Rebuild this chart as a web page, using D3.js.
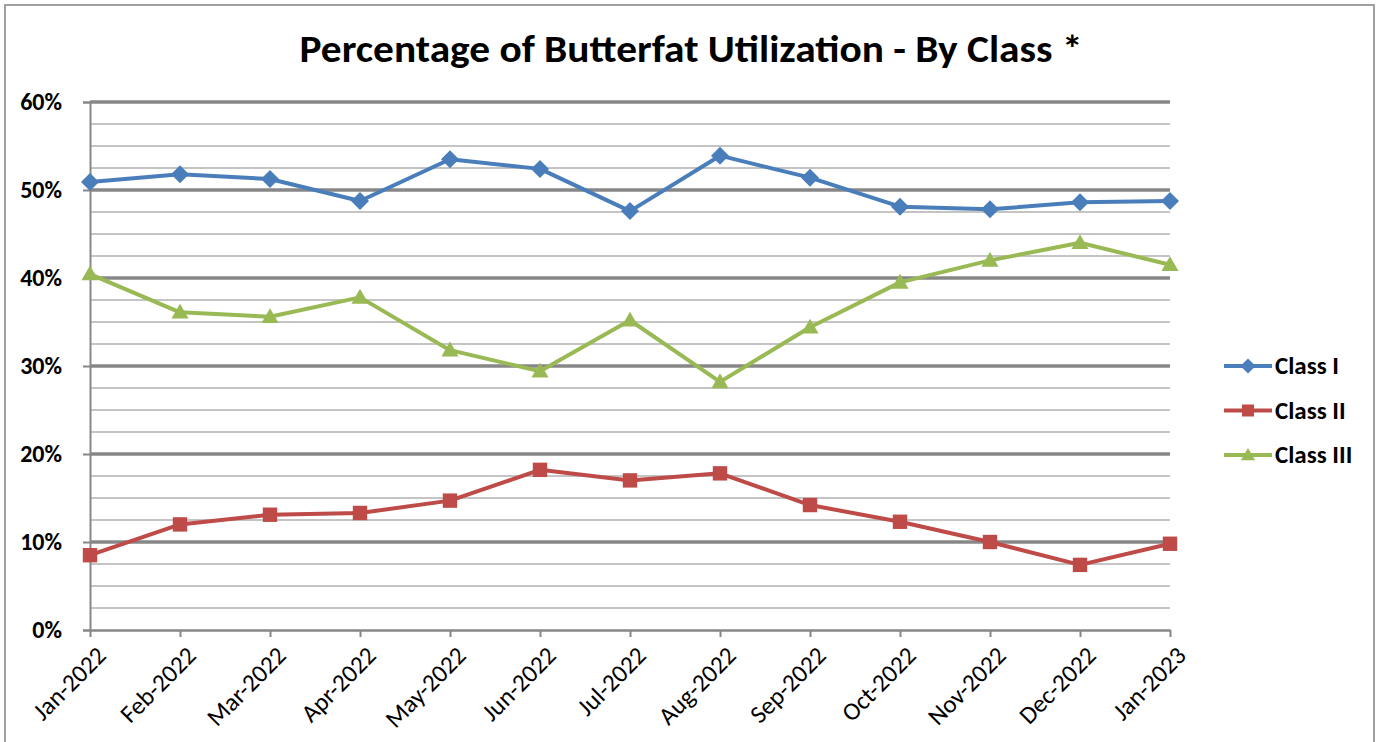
<!DOCTYPE html>
<html>
<head>
<meta charset="utf-8">
<script src="https://cdn.jsdelivr.net/npm/d3@7"></script>
<style>
  body { margin: 0; background: #fff; }
  svg text { font-family: Calibri, Carlito, Lato, sans-serif; fill: #000; }
</style>
</head>
<body>
<svg id="chart" width="1377" height="742"></svg>
<script>
// months on the x axis
var months = ["Jan-2022","Feb-2022","Mar-2022","Apr-2022","May-2022","Jun-2022","Jul-2022",
	"Aug-2022","Sep-2022","Oct-2022","Nov-2022","Dec-2022","Jan-2023"];

// values in percent
var classI   = [50.9, 51.8, 51.25, 48.75, 53.5, 52.4, 47.6, 53.9, 51.4, 48.1, 47.8, 48.6, 48.75];
var classII  = [8.5, 12.0, 13.1, 13.3, 14.7, 18.2, 17.0, 17.8, 14.2, 12.3, 10.0, 7.4, 9.8];
var classIII = [40.45, 36.1, 35.6, 37.8, 31.8, 29.4, 35.2, 28.2, 34.4, 39.5, 42.0, 44.0, 41.5];

var seriesNames = ["Class I", "Class II", "Class III"];
var yTicks = [0, 10, 20, 30, 40, 50, 60];

var colors = ["#4a7ebb", "#be4b48", "#98b954"];
var series = [classI, classII, classIII];

// marker paths, centred on 0,0
function marker(k, s){
	if(k == 0) return "M0," + (-s) + "L" + s + ",0L0," + s + "L" + (-s) + ",0Z";
	if(k == 1) return "M" + (-s*0.8) + "," + (-s*0.8) + "h" + (s*1.6) + "v" + (s*1.6) + "h" + (-s*1.6) + "Z";
	return "M0," + (-s*0.95) + "L" + (s*0.95) + "," + (s*0.7) + "L" + (-s*0.95) + "," + (s*0.7) + "Z";
}

var svg = d3.select("#chart");

// outer frame (bottom edge is off the picture)
svg.append("path")
	.attr("d", "M5,760 V5 H1374 V760")
	.attr("fill", "none")
	.attr("stroke", "#a0a0a0")
	.attr("stroke-width", 2);

svg.append("text")
	.attr("x", 691).attr("y", 62)
	.attr("text-anchor", "middle")
	.style("font-size", "38px")
	.style("font-weight", "bold")
	.attr("textLength", 783)
	.attr("lengthAdjust", "spacingAndGlyphs")
	.text("Percentage of Butterfat Utilization - By Class *");

var x = d3.scalePoint().domain(months).range([90, 1170]);
var y = d3.scaleLinear().domain([0, 60]).range([630, 102]);

// minor gridlines every 2.5%
var minor = d3.range(0, 60.1, 2.5).filter(function(v){ return v % 10 != 0; });
svg.append("g").selectAll("line").data(minor).enter().append("line")
	.attr("x1", 90).attr("x2", 1170)
	.attr("y1", function(d){ return y(d); }).attr("y2", function(d){ return y(d); })
	.attr("stroke", "#c4c4c4").attr("stroke-width", 2);

svg.append("g").selectAll("line").data(yTicks.filter(function(d){ return d > 0; })).enter().append("line")
	.attr("x1", 90).attr("x2", 1170)
	.attr("y1", function(d){ return y(d); }).attr("y2", function(d){ return y(d); })
	.attr("stroke", "#878787").attr("stroke-width", 3.5);

var yAxis = svg.append("g")
	.attr("transform", "translate(90,0)")
	.call(d3.axisLeft(y).tickValues(yTicks).tickSize(7).tickPadding(21)
		.tickFormat(function(d){ return d + "%"; }));
yAxis.selectAll("line, path").attr("stroke", "#878787").attr("stroke-width", 2);
yAxis.selectAll("text")
	.style("font-size", "24px").style("font-weight", "bold")
	.style("font-family", "Calibri, Carlito, Lato, sans-serif")
	.attr("fill", "#000");

var xAxis = svg.append("g")
	.attr("transform", "translate(0,630)")
	.call(d3.axisBottom(x).tickSize(7).tickSizeOuter(0));
xAxis.select(".domain").attr("stroke", "#878787").attr("stroke-width", 2.5);
xAxis.selectAll("line").attr("stroke", "#878787").attr("stroke-width", 2);
xAxis.selectAll("text")
	.style("font-size", "25px")
	.style("font-weight", "normal")
	.style("font-family", "Calibri, Carlito, Lato, sans-serif")
	.attr("fill", "#000")
	.attr("text-anchor", "end")
	.attr("dy", 0)
	.attr("transform", "translate(10,20) rotate(-45)");

var line = d3.line()
	.x(function(d, i){ return x(months[i]); })
	.y(function(d){ return y(d); });

series.forEach(function(vals, k){
	var g = svg.append("g");
	g.append("path")
		.attr("d", line(vals))
		.attr("fill", "none")
		.attr("stroke", colors[k])
		.attr("stroke-width", 4)
		.attr("stroke-linejoin", "round");
	g.selectAll("path.pt").data(vals).enter().append("path")
		.attr("class", "pt")
		.attr("transform", function(d, i){ return "translate(" + x(months[i]) + "," + y(d) + ")"; })
		.attr("d", marker(k, 9))
		.attr("fill", colors[k]);
});

var legend = svg.append("g");
seriesNames.forEach(function(name, k){
	var ly = 366 + k * 44.5;
	legend.append("line")
		.attr("x1", 1224).attr("x2", 1272)
		.attr("y1", ly).attr("y2", ly)
		.attr("stroke", colors[k]).attr("stroke-width", 4);
	legend.append("path")
		.attr("transform", "translate(1248," + ly + ")")
		.attr("d", marker(k, 7.5))
		.attr("fill", colors[k]);
	legend.append("text")
		.attr("x", 1275).attr("y", ly + 8)
		.style("font-size", "25px").style("font-weight", "bold")
		.text(name);
});
</script>
</body>
</html>
